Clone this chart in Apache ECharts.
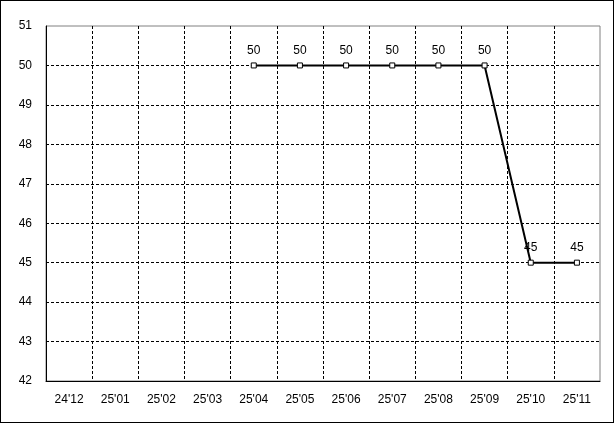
<!DOCTYPE html>
<html>
<head>
<meta charset="utf-8">
<script src="https://cdn.jsdelivr.net/npm/echarts@6/dist/echarts.min.js"></script>
<style>
html,body{margin:0;padding:0;background:#fff;}
#c{width:612px;height:421px;border:1px solid #000;}
</style>
</head>
<body>
<div id="c"></div>
<script>
const categories = ["24'12","25'01","25'02","25'03","25'04","25'05","25'06","25'07","25'08","25'09","25'10","25'11"];
const values = [null,null,null,null,50,50,50,50,50,50,45,45];
const yMin = 42, yMax = 51, yStep = 1;

const chart = echarts.init(document.getElementById('c'), null, {renderer:'canvas'});
const font = 'Liberation Sans, Arial, sans-serif';
chart.setOption({
  animation:false,
  backgroundColor:'#fff',
  grid:{left:45,top:25,right:13,bottom:41,show:true,borderColor:'#808080',borderWidth:1,backgroundColor:'transparent'},
  xAxis:{
    type:'category',data:categories,boundaryGap:true,
    axisLine:{show:true,lineStyle:{color:'#000',width:1}},
    axisTick:{show:false},
    axisLabel:{color:'#000',fontSize:12,fontFamily:font,margin:13},
    splitLine:{show:true,showMinLine:false,showMaxLine:false,lineStyle:{color:'#000',type:[3,2],width:1}}
  },
  yAxis:{
    type:'value',min:yMin,max:yMax,interval:yStep,
    axisLine:{show:true,lineStyle:{color:'#000',width:1}},
    axisTick:{show:false},
    axisLabel:{color:'#000',fontSize:12,fontFamily:font,margin:14},
    splitLine:{show:true,showMinLine:false,showMaxLine:false,lineStyle:{color:'#000',type:[3,2],width:1}}
  },
  series:[{
    type:'line',data:values,connectNulls:false,
    symbol:'rect',symbolSize:5,showAllSymbol:true,
    itemStyle:{color:'#fff',borderColor:'#000',borderWidth:1},
    lineStyle:{color:'#000',width:2},
    label:{show:true,position:'top',distance:6,color:'#000',fontSize:12,fontFamily:font},
    emphasis:{disabled:true}
  }]
});
</script>
</body>
</html>
